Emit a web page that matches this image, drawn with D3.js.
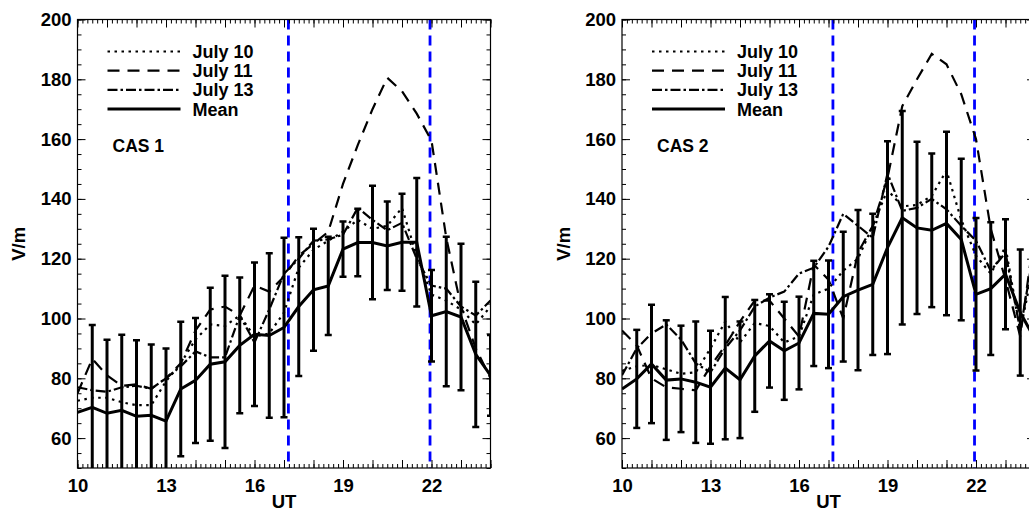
<!DOCTYPE html>
<html>
<head>
<meta charset="utf-8">
<script src="https://cdn.jsdelivr.net/npm/d3@7/dist/d3.min.js"></script>
<style>
  body { margin: 0; background: #fff; }
  text { font-family: "Liberation Sans", Arial, sans-serif; font-weight: bold; fill: #000; }
</style>
</head>
<body>
<svg id="chart" width="1029" height="513"></svg>
<script>
// UT hours of the half-hourly samples
var hours = [10, 10.5, 11, 11.5, 12, 12.5, 13, 13.5, 14, 14.5, 15, 15.5, 16, 16.5, 17,
             17.5, 18, 18.5, 19, 19.5, 20, 20.5, 21, 21.5, 22, 22.5, 23, 23.5, 24];

// CAS 1
var cas1Jul10 = [72.5, 73.5, 73.5, 72, 71, 71, 79, 85, 93, 98, 97.5, 101, 94, 95, 102,
                 117, 123, 126, 129, 133, 130, 131, 137, 121, 108, 106, 103, 98, 104];
var cas1Jul11 = [75, 86.5, 81, 77.5, 78, 76.5, 80, 85, 96, 103, 104, 101, 111, 109, 114,
                 121, 125, 129, 145, 158, 170, 180.5, 176, 168.5, 159.5, 127, 104, 90, 80];
var cas1Jul13 = [77, 76, 75.5, 77, 77.5, 76.5, 80, 84, 89, 87, 87, 101, 92, 103, 115,
                 120, 126, 126.5, 128, 137, 133, 129.5, 132, 120, 111, 110, 104, 101, 106];
var cas1Mean  = [68.6, 70.3, 68.3, 69.3, 67.3, 67.6, 65.7, 76.4, 79.3, 84.7, 85.5, 91, 94.7, 94.3, 97,
                 104, 109.6, 110.9, 123.2, 125.4, 125.4, 124.3, 125.5, 125.5, 100.9, 102.3, 100.5, 88, 81];
var cas1Err   = [null, 27.5, 24.6, 25.3, 25.4, 23.7, 24.3, 22.5, 20.9, 25.6, 28.8, 22.7, 24, 27.5, 30,
                 23.2, 20.4, 16.4, 9.2, 11.3, 19, 14.8, 16.2, 21.5, 15.3, 25, 24.5, 24.3, 13.5];

// CAS 2
var cas2Jul10 = [82.5, 84, 84.5, 83, 81.5, 82, 90, 99, 92, 98.5, 97.5, 92, 94, 108, 110,
                 116, 120, 131, 143, 137.5, 138, 141, 149.5, 133, 121, 115, 124, 96, 120];
var cas2Jul11 = [96, 91, 80, 77, 76.5, 76, 84, 91, 99, 106, 106, 100, 94, 118, 113,
                 100, 122, 131, 147, 171, 180, 188.5, 185, 175, 160, 130, 113, 94, 130];
var cas2Jul13 = [81, 90, 95, 98, 93, 85, 82, 90, 96, 104, 107, 109, 115, 117, 124,
                 135, 131, 127, 148.5, 136, 137, 140, 136.5, 131, 126, 116, 122, 96, 125];
var cas2Mean  = [76.4, 79.8, 84.8, 79.4, 79.8, 78.7, 77, 83.4, 79.5, 87.5, 92.5, 89.2, 91.8, 101.7, 101.4,
                 107.3, 109.5, 111.4, 123.7, 133.7, 130.3, 129.5, 131.8, 126.4, 108.1, 110, 114.8, 102, 93];
var cas2Err   = [null, 16.4, 19.8, 20, 17.8, 20.3, 18.9, 23.8, 19.5, 18.7, 15.6, 16.4, 15.5, 17.6, 18,
                 21.7, 26.8, 23.6, 35.6, 35.7, 28.8, 25.7, 30.7, 27, 25.5, 22.2, 18.4, 21.1, 20];

var seriesNames = ["July 10", "July 11", "July 13", "Mean"];
var markerHours = [17.15, 21.95];
var xLabelHours = [10, 13, 16, 19, 22];
var yTickValues = [60, 80, 100, 120, 140, 160, 180, 200];

var svg = d3.select("#chart");
var styles = [
  {dash: "2.5,4.5", width: 2.2},
  {dash: "12,8", width: 2.2},
  {dash: "10,3,2.5,3", width: 2.2},
  {dash: null, width: 3}
];

function drawPanel(id, left, title, series, mean, err) {
  var x = d3.scaleLinear().domain([10, 24]).range([left, left + 413]);
  var y = d3.scaleLinear().domain([50, 200]).range([468, 19.5]);
  var g = svg.append("g");

  g.append("clipPath").attr("id", "clip" + id)
    .append("rect").attr("x", x(10)).attr("y", y(200))
    .attr("width", x(24) - x(10)).attr("height", y(50) - y(200));

  var plot = g.append("g").attr("clip-path", "url(#clip" + id + ")");

  // blue markers
  plot.selectAll(".marker").data(markerHours).enter().append("line")
    .attr("x1", d => x(d)).attr("x2", d => x(d))
    .attr("y1", y(200)).attr("y2", y(50))
    .attr("stroke", "#0000ff").attr("stroke-width", 2.8)
    .attr("stroke-dasharray", "10,6");

  var line = d3.line()
    .x((d, i) => x(hours[i]))
    .y(d => y(d));

  var all = series.concat([mean]);
  all.forEach(function(vals, k) {
    plot.append("path")
      .attr("d", line(vals))
      .attr("fill", "none")
      .attr("stroke", "#000")
      .attr("stroke-width", styles[k].width)
      .attr("stroke-dasharray", styles[k].dash);
  });

  // error bars
  var bars = hours.map((h, i) => ({h: h, m: mean[i], e: err[i]})).filter(d => d.e != null);
  plot.selectAll(".eb").data(bars).enter().append("line")
    .attr("x1", d => x(d.h)).attr("x2", d => x(d.h))
    .attr("y1", d => y(d.m - d.e)).attr("y2", d => y(d.m + d.e))
    .attr("stroke", "#000").attr("stroke-width", 3);
  ["top", "bot"].forEach(function(side) {
    plot.selectAll(".cap" + side).data(bars).enter().append("line")
      .attr("x1", d => x(d.h) - 3.5).attr("x2", d => x(d.h) + 3.5)
      .attr("y1", d => y(side == "top" ? d.m + d.e : d.m - d.e))
      .attr("y2", d => y(side == "top" ? d.m + d.e : d.m - d.e))
      .attr("stroke", "#000").attr("stroke-width", 2.5);
  });

  // axes
  var majorX = d3.range(10, 24.01, 1);
  var minorX = d3.range(10, 24.01, 1 / 6);
  var minorY = d3.range(50, 200.1, 5);
  var fmtX = d => xLabelHours.indexOf(d) >= 0 ? d : "";

  g.append("g").attr("transform", `translate(0,${y(50)})`)
    .call(d3.axisBottom(x).tickValues(minorX).tickSize(-4).tickFormat(""));
  g.append("g").attr("class", "xlab").attr("transform", `translate(0,${y(50)})`)
    .call(d3.axisBottom(x).tickValues(majorX).tickSize(-8).tickPadding(11).tickFormat(fmtX));
  g.append("g").attr("transform", `translate(0,${y(200)})`)
    .call(d3.axisTop(x).tickValues(minorX).tickSize(-4).tickFormat(""));
  g.append("g").attr("transform", `translate(0,${y(200)})`)
    .call(d3.axisTop(x).tickValues(majorX).tickSize(-8).tickFormat(""));

  g.append("g").attr("transform", `translate(${x(10)},0)`)
    .call(d3.axisLeft(y).tickValues(minorY).tickSize(-4).tickFormat(""));
  g.append("g").attr("class", "ylab").attr("transform", `translate(${x(10)},0)`)
    .call(d3.axisLeft(y).tickValues(yTickValues).tickSize(-8).tickPadding(6));
  g.append("g").attr("transform", `translate(${x(24)},0)`)
    .call(d3.axisRight(y).tickValues(minorY).tickSize(-4).tickFormat(""));
  g.append("g").attr("transform", `translate(${x(24)},0)`)
    .call(d3.axisRight(y).tickValues(yTickValues).tickSize(-8).tickFormat(""));

  g.selectAll(".domain").remove();
  g.selectAll(".tick line").attr("stroke", "#000");
  g.selectAll(".xlab text, .ylab text")
    .style("font-size", "18.5px").style("font-family", "Liberation Sans, Arial, sans-serif")
    .style("font-weight", "bold").attr("fill", "#000");

  g.append("rect")
    .attr("x", x(10)).attr("y", y(200))
    .attr("width", x(24) - x(10)).attr("height", y(50) - y(200))
    .attr("fill", "none").attr("stroke", "#000").attr("stroke-width", 1.2);

  // legend
  var leg = g.selectAll(".leg").data(seriesNames).enter().append("g")
    .attr("transform", (d, i) => `translate(${x(10)},${51.5 + i * 19.2})`);
  leg.append("line")
    .attr("x1", 30).attr("x2", 103)
    .attr("stroke", "#000")
    .attr("stroke-width", (d, i) => styles[i].width)
    .attr("stroke-dasharray", (d, i) => styles[i].dash);
  leg.append("text")
    .attr("x", 115).attr("y", 6.5)
    .style("font-size", "18px")
    .text(d => d);

  g.append("text")
    .attr("x", x(10) + 35).attr("y", 151.5)
    .style("font-size", "17.5px")
    .text(title);

  g.append("text")
    .attr("x", (x(10) + x(24)) / 2).attr("y", 508)
    .attr("text-anchor", "middle")
    .style("font-size", "18.5px")
    .text("UT");

  g.append("text")
    .attr("transform", `translate(${x(10) - 52.5},${(y(50) + y(200)) / 2}) rotate(-90)`)
    .attr("text-anchor", "middle")
    .style("font-size", "18.5px")
    .text("V/m");
}

drawPanel(1, 77.5, "CAS 1", [cas1Jul10, cas1Jul11, cas1Jul13], cas1Mean, cas1Err);
drawPanel(2, 622, "CAS 2", [cas2Jul10, cas2Jul11, cas2Jul13], cas2Mean, cas2Err);
</script>
</body>
</html>
